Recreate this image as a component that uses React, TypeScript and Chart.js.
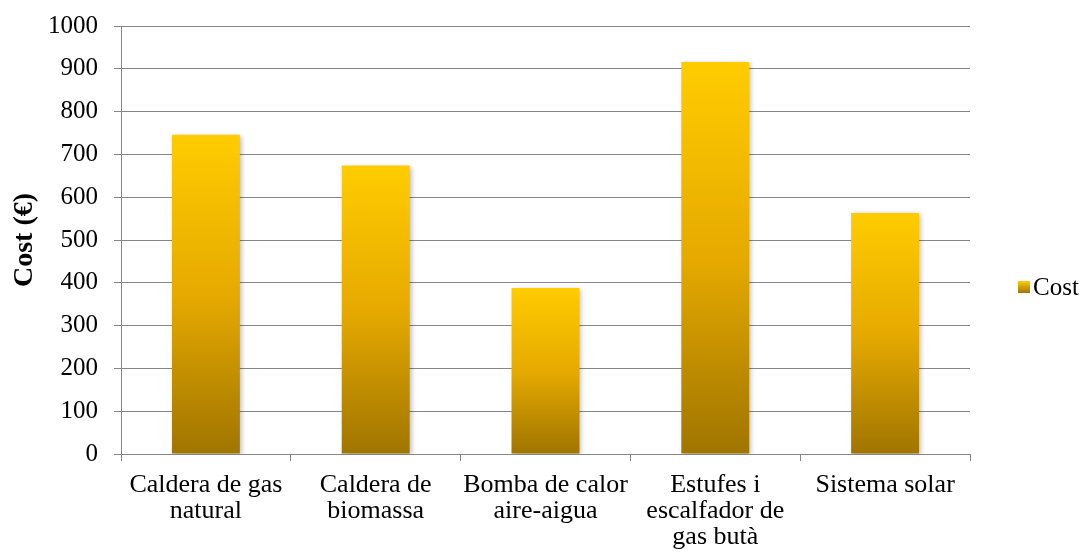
import React, { useEffect, useRef } from "react";
import { Chart, registerables } from "chart.js";

Chart.register(...registerables);

const categories: string[][] = [
  ["Caldera de gas", "natural"],
  ["Caldera de", "biomassa"],
  ["Bomba de calor", "aire-aigua"],
  ["Estufes i", "escalfador de", "gas butà"],
  ["Sistema solar"],
];
const costValues: number[] = [746, 674, 388, 916, 563];
const seriesName = "Cost";
const yAxisTitle = "Cost (€)";
const yTicks = { min: 0, max: 1000, step: 100 };

const FONT = "'Liberation Serif', 'Times New Roman', serif";
const TOP_COLOR = "#FFCC00";
const BOTTOM_COLOR = "#A07500";

function barGradient(chart: any, value: number) {
  const y = chart.scales?.y;
  const ctx = chart.ctx;
  if (!y || !ctx) return TOP_COLOR;
  const top = y.getPixelForValue(value);
  const bottom = y.getPixelForValue(0);
  if (!isFinite(top) || !isFinite(bottom) || top === bottom) return TOP_COLOR;
  const g = ctx.createLinearGradient(0, top, 0, bottom);
  g.addColorStop(0, TOP_COLOR);
  g.addColorStop(0.5, "#E6AA00");
  g.addColorStop(1, BOTTOM_COLOR);
  return g;
}

const shadowPlugin = {
  id: "barShadow",
  beforeDatasetsDraw(chart: any) {
    const ctx = chart.ctx;
    ctx.save();
    ctx.shadowColor = "rgba(0,0,0,0.28)";
    ctx.shadowBlur = 5;
    ctx.shadowOffsetX = 2;
    ctx.shadowOffsetY = 1;
  },
  afterDatasetsDraw(chart: any) {
    chart.ctx.restore();
  },
};

const legendPlugin = {
  id: "sideLegend",
  afterDraw(chart: any) {
    const ctx = chart.ctx;
    const area = chart.chartArea;
    const x = area.right + 48;
    const yc = 287;
    ctx.save();
    const g = ctx.createLinearGradient(0, yc - 6, 0, yc + 6);
    g.addColorStop(0, TOP_COLOR);
    g.addColorStop(1, BOTTOM_COLOR);
    ctx.fillStyle = g;
    ctx.fillRect(x, yc - 6, 12, 12);
    ctx.fillStyle = "#000";
    ctx.font = `25px ${FONT}`;
    ctx.textBaseline = "middle";
    ctx.textAlign = "left";
    ctx.fillText(chart.data.datasets[0].label, x + 15, yc + 1);
    ctx.restore();
  },
};

export default function App() {
  const canvasRef = useRef<HTMLCanvasElement | null>(null);

  useEffect(() => {
    document.body.style.margin = "0";
    const canvas = canvasRef.current;
    if (!canvas) return;
    const chart = new Chart(canvas, {
      type: "bar",
      data: {
        labels: categories,
        datasets: [
          {
            label: seriesName,
            data: costValues,
            backgroundColor: (c: any) => barGradient(c.chart, c.raw as number),
            borderWidth: 0,
            categoryPercentage: 1,
            barPercentage: 0.4,
          },
        ],
      },
      options: {
        animation: false,
        responsive: false,
        maintainAspectRatio: false,
        layout: { padding: { left: 8, right: 113, top: 26, bottom: 0 } },
        plugins: {
          legend: { display: false },
          tooltip: { enabled: false },
        },
        scales: {
          x: {
            grid: {
              display: true,
              drawOnChartArea: false,
              drawTicks: true,
              tickLength: 7,
              color: "#868686",
              offset: true,
            },
            border: { display: true, color: "#868686", width: 1 },
            ticks: {
              color: "#000",
              font: { family: FONT, size: 26, lineHeight: 1.0 },
              padding: 11,
              maxRotation: 0,
              autoSkip: false,
            },
            afterFit(scale: any) {
              scale.height = 560 - 454;
            },
          },
          y: {
            min: yTicks.min,
            max: yTicks.max,
            grid: {
              color: "#868686",
              lineWidth: 1,
              drawTicks: true,
              tickLength: 7,
            },
            border: { display: true, color: "#868686", width: 1 },
            ticks: {
              stepSize: yTicks.step,
              color: "#000",
              font: { family: FONT, size: 25 },
              padding: 16,
              callback: (v: any) => String(v),
            },
            title: {
              display: true,
              text: yAxisTitle,
              color: "#000",
              font: { family: FONT, size: 28, weight: "bold" },
              padding: { top: 0, bottom: 0 },
            },
            afterFit(scale: any) {
              scale.width = 121 - 8;
              scale.paddingTop = 0;
              scale.paddingBottom = 0;
            },
          },
        },
      },
      plugins: [shadowPlugin, legendPlugin],
    });
    return () => chart.destroy();
  }, []);

  return (
    <div style={{ width: 1083, height: 560, background: "#fff" }}>
      <canvas ref={canvasRef} width={1083} height={560} style={{ display: "block" }} />
    </div>
  );
}
